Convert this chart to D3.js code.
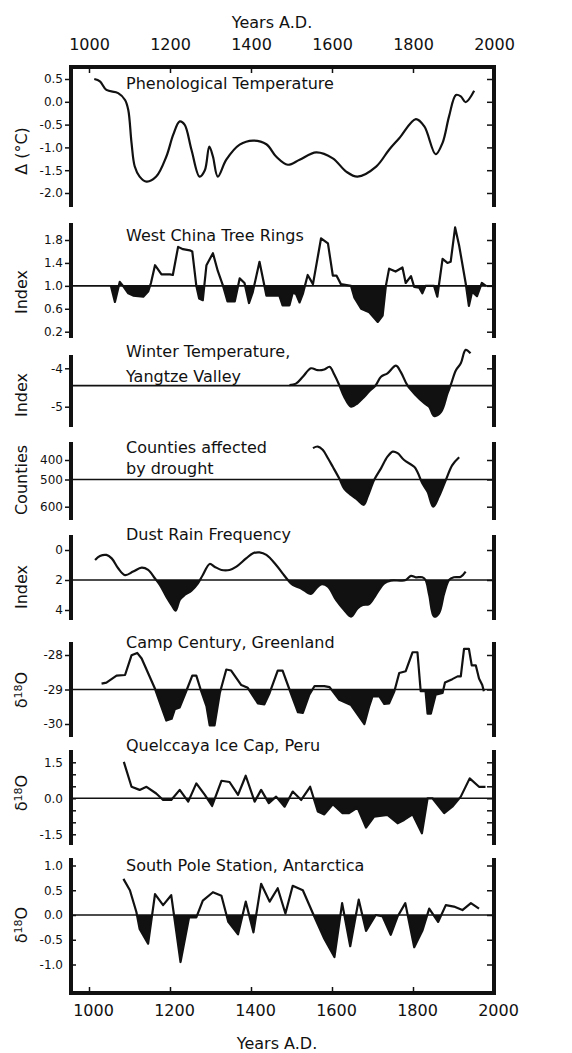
<!DOCTYPE html>
<html><head><meta charset="utf-8">
<script src="https://cdn.jsdelivr.net/npm/d3@7"></script>
<style>
body{margin:0;background:#fff}
svg{display:block;background:#fff}
text{font-family:"DejaVu Sans",sans-serif;fill:#111}
</style>
</head><body>
<svg id="c" width="572" height="1053"></svg>
<script>
// ---------------- DATA ----------------
const yearTicks = [1000, 1200, 1400, 1600, 1800, 2000];
const axisTitle = "Years A.D.";

const phenoTicks = [0.5, 0, -0.5, -1.0, -1.5, -2.0];
const phenoTickLabels = ["0.5", "0.0", "-0.5", "-1.0", "-1.5", "-2.0"];
const phenoYears = [1013,1027,1043,1072,1089,1097,1105,1113,1125,1142,1166,1191,1208,1224,1236,1253,1273,1286,1297,1306,1318,1339,1372,1405,1438,1462,1491,1520,1561,1602,1635,1663,1709,1741,1766,1807,1828,1856,1873,1889,1906,1918,1930,1951];
const phenoValues = [0.5,0.45,0.26,0.19,0.04,-0.18,-0.9,-1.42,-1.64,-1.75,-1.64,-1.2,-0.72,-0.43,-0.5,-1.05,-1.64,-1.5,-0.98,-1.2,-1.64,-1.27,-0.94,-0.85,-0.93,-1.2,-1.38,-1.27,-1.11,-1.24,-1.53,-1.64,-1.42,-1.05,-0.8,-0.38,-0.54,-1.15,-0.9,-0.32,0.15,0.12,-0.01,0.24];

const treeTicks = [1.8, 1.4, 1.0, 0.6, 0.2];
const treeTickLabels = ["1.8", "1.4", "1.0", "0.6", "0.2"];
const treeYears = [1054,1064,1076,1084,1097,1109,1134,1146,1153,1163,1179,1200,1207,1220,1232,1249,1255,1265,1272,1281,1290,1306,1318,1331,1342,1360,1372,1384,1395,1404,1421,1438,1470,1478,1495,1503,1511,1520,1528,1540,1553,1573,1590,1602,1611,1622,1647,1655,1672,1692,1713,1725,1733,1741,1757,1774,1782,1795,1803,1815,1823,1831,1852,1860,1873,1885,1893,1904,1914,1930,1938,1946,1958,1970,1980];
const treeValues = [1.0,0.72,1.07,1.0,0.87,0.83,0.81,0.9,1.05,1.36,1.2,1.2,1.19,1.68,1.64,1.62,1.6,1.0,0.78,0.75,1.36,1.57,1.26,1.0,0.73,0.73,1.13,1.05,0.7,0.88,1.42,0.83,0.83,0.66,0.66,0.88,0.86,0.71,0.86,1.19,1.03,1.83,1.74,1.18,1.18,1.03,1.0,0.8,0.6,0.54,0.37,0.48,1.0,1.3,1.25,1.32,1.05,1.17,0.98,0.97,0.87,1.0,1.0,0.81,1.47,1.4,1.42,2.02,1.7,1.05,0.65,0.9,0.82,1.05,1.0];

const winterTicks = [-4, -5];
const winterTickLabels = ["-4", "-5"];
const winterYears = [1495,1511,1528,1548,1565,1581,1594,1606,1618,1630,1647,1663,1676,1692,1708,1721,1737,1758,1770,1786,1807,1828,1840,1852,1869,1885,1893,1906,1918,1930,1942];
const winterValues = [-4.44,-4.4,-4.22,-4.0,-4.05,-4.03,-3.96,-4.17,-4.44,-4.74,-5.0,-4.91,-4.78,-4.6,-4.44,-4.22,-4.13,-3.93,-4.1,-4.44,-4.7,-4.91,-5.0,-5.24,-5.14,-4.66,-4.44,-4.05,-3.87,-3.52,-3.61];

const droughtTicks = [400, 500, 600];
const droughtTickLabels = ["400", "500", "600"];
const droughtYears = [1553,1565,1577,1590,1602,1618,1630,1647,1663,1678,1688,1704,1721,1737,1750,1762,1778,1803,1811,1823,1836,1850,1864,1881,1897,1914];
const droughtValues = [339,331,348,391,435,495,533,557,575,593,563,502,443,383,357,365,400,435,461,514,545,600,563,502,426,386];

const dustTicks = [0, 2, 4];
const dustTickLabels = ["0", "2", "4"];
const dustYears = [1015,1027,1043,1056,1072,1089,1109,1130,1146,1163,1175,1191,1204,1214,1224,1236,1253,1269,1281,1298,1310,1327,1347,1364,1388,1405,1421,1438,1462,1478,1491,1503,1524,1548,1561,1573,1590,1610,1630,1647,1663,1676,1692,1708,1729,1745,1770,1782,1795,1807,1823,1831,1840,1852,1864,1877,1889,1901,1918,1930];
const dustValues = [0.67,0.4,0.33,0.56,1.22,1.67,1.44,1.18,1.33,1.9,2.33,3.11,3.67,4.04,3.33,3.0,2.71,2.22,1.67,0.93,1.11,1.33,1.33,1.11,0.56,0.22,0.16,0.33,1.0,1.56,2.0,2.33,2.56,2.93,2.56,2.29,2.44,3.33,4.0,4.44,3.89,3.67,3.6,3.0,2.22,2.04,2.04,2.0,1.73,1.82,1.82,2.0,3.0,4.44,4.22,2.89,2.0,1.82,1.78,1.44];

const campTicks = [-28, -29, -30];
const campTickLabels = ["-28", "-29", "-30"];
const campYears = [1031,1043,1068,1089,1105,1119,1130,1163,1179,1191,1204,1212,1224,1240,1255,1265,1277,1290,1298,1310,1323,1339,1351,1376,1392,1417,1433,1446,1466,1478,1495,1516,1528,1544,1557,1581,1594,1618,1647,1680,1692,1700,1717,1729,1741,1754,1766,1782,1799,1811,1819,1831,1836,1844,1856,1873,1879,1897,1910,1918,1926,1938,1945,1955,1963,1971,1975];
const campValues = [-28.83,-28.8,-28.6,-28.58,-28.01,-27.94,-28.1,-28.98,-29.51,-29.9,-29.85,-29.57,-29.52,-29.05,-28.6,-28.6,-29.05,-29.48,-30.04,-30.04,-29.1,-28.42,-28.45,-28.87,-28.95,-29.4,-29.43,-29.1,-28.45,-28.45,-29.0,-29.66,-29.68,-29.15,-28.9,-28.9,-28.93,-29.3,-29.45,-30.0,-29.48,-29.2,-29.2,-29.42,-29.4,-29.05,-28.52,-28.47,-27.92,-27.92,-29.05,-29.05,-29.7,-29.7,-29.15,-29.1,-28.8,-28.7,-28.62,-28.62,-27.82,-27.82,-28.3,-28.3,-28.68,-28.87,-29.05];

const quelTicks = [1.5, 1.0, 0.5, 0.0, -0.5, -1.0, -1.5];
const quelTickLabels = ["1.5", "", "", "0.0", "", "", "-1.5"];
const quelYears = [1086,1105,1125,1142,1166,1183,1203,1224,1245,1265,1286,1304,1327,1347,1368,1387,1409,1425,1444,1462,1483,1503,1524,1546,1565,1581,1602,1626,1642,1663,1684,1704,1737,1762,1778,1799,1822,1836,1848,1877,1897,1918,1940,1963,1979];
const quelValues = [1.52,0.48,0.35,0.48,0.2,-0.07,-0.07,0.35,-0.14,0.62,0.14,-0.32,0.73,0.68,0.14,0.94,-0.14,0.35,-0.2,0.07,-0.35,0.28,-0.07,0.48,-0.55,-0.67,-0.25,-0.62,-0.62,-0.39,-1.22,-0.76,-0.69,-1.04,-0.9,-0.67,-1.46,0.0,0.0,-0.62,-0.35,0.07,0.83,0.48,0.48];

const poleTicks = [1.0, 0.5, 0.0, -0.5, -1.0];
const poleTickLabels = ["1.0", "0.5", "0.0", "-0.5", "-1.0"];
const poleYears = [1085,1101,1117,1125,1146,1163,1183,1203,1226,1247,1265,1281,1306,1327,1344,1368,1387,1406,1425,1446,1466,1485,1503,1528,1553,1581,1606,1625,1645,1666,1684,1708,1725,1745,1762,1781,1803,1823,1840,1862,1881,1901,1922,1943,1963];
const poleValues = [0.73,0.5,0.06,-0.28,-0.58,0.42,0.2,0.4,-0.95,-0.05,-0.05,0.29,0.46,0.39,-0.14,-0.39,0.27,-0.35,0.63,0.27,0.54,0.03,0.59,0.5,0.03,-0.48,-0.85,0.24,-0.63,0.31,-0.32,0.0,-0.03,-0.4,-0.03,0.24,-0.65,-0.32,0.13,-0.14,0.2,0.17,0.1,0.24,0.13];

// ---------------- LAYOUT ----------------
const svg = d3.select('#c');
const L = 71, R = 494, TOP = 67, BOT = 993;
const INK = '#111';
const x = d3.scaleLinear().domain([1000, 2000]).range([89, 494]);

const panels = [
  {id:1, title:["Phenological Temperature"], tY:[89], ylab:"Δ (°C)", labY:151, top:67, bottom:207,
   domain:[0.5,-2.0], range:[79,193], ticks:phenoTicks, labels:phenoTickLabels, years:phenoYears, values:phenoValues,
   baseline:null, curve:d3.curveCatmullRom, inward:false},
  {id:2, title:["West China Tree Rings"], tY:[241], ylab:"Index", labY:292, top:223, bottom:338,
   domain:[1.8,0.2], range:[240,331.7], ticks:treeTicks, labels:treeTickLabels, years:treeYears, values:treeValues,
   baseline:1.0, curve:d3.curveLinear, inward:false},
  {id:3, title:["Winter Temperature,","Yangtze Valley"], tY:[357,382], ylab:"Index", labY:395, top:355, bottom:427,
   domain:[-4,-5], range:[368.3,406.7], ticks:winterTicks, labels:winterTickLabels, years:winterYears, values:winterValues,
   baseline:-4.45, curve:d3.curveCatmullRom, inward:false},
  {id:4, title:["Counties affected","by drought"], tY:[453,474], ylab:"Counties", labY:480, top:442, bottom:520,
   domain:[400,500,600], range:[460,479.5,506.7], ticks:droughtTicks, labels:droughtTickLabels, years:droughtYears, values:droughtValues,
   baseline:500, curve:d3.curveCatmullRom, inward:false},
  {id:5, title:["Dust Rain Frequency"], tY:[540], ylab:"Index", labY:587, top:535, bottom:620,
   domain:[0,4], range:[550,610], ticks:dustTicks, labels:dustTickLabels, years:dustYears, values:dustValues,
   baseline:2, curve:d3.curveCatmullRom, inward:false},
  {id:6, title:["Camp Century, Greenland"], tY:[648], ylab:"d18O", labY:690, top:642, bottom:737,
   domain:[-28,-30], range:[655,724], ticks:campTicks, labels:campTickLabels, years:campYears, values:campValues,
   baseline:-29, curve:d3.curveLinear, inward:false},
  {id:7, title:["Quelccaya Ice Cap, Peru"], tY:[751], ylab:"d18O", labY:793, top:750, bottom:845,
   domain:[1.5,-1.5], range:[762.3,834.3], ticks:quelTicks, labels:quelTickLabels, years:quelYears, values:quelValues,
   baseline:0, curve:d3.curveLinear, inward:true},
  {id:8, title:["South Pole Station, Antarctica"], tY:[871], ylab:"d18O", labY:925, top:858, bottom:BOT,
   domain:[1.0,-1.0], range:[865.5,964.5], ticks:poleTicks, labels:poleTickLabels, years:poleYears, values:poleValues,
   baseline:0, curve:d3.curveLinear, inward:true}
];

const defs = svg.append('defs');

panels.forEach(p => {
  const y = d3.scaleLinear().domain(p.domain).range(p.range);
  const g = svg.append('g');
  const pts = p.years.map((yr, i) => [yr, p.values[i]]);

  if (p.baseline !== null) {
    const by = y(p.baseline);
    const cid = 'clip' + p.id;
    defs.append('clipPath').attr('id', cid).append('rect')
      .attr('x', L).attr('y', by).attr('width', R - L).attr('height', p.bottom - by + 30);
    g.append('path').datum(pts)
      .attr('clip-path', `url(#${cid})`)
      .attr('fill', INK)
      .attr('d', d3.area().x(d => x(d[0])).y0(by).y1(d => y(d[1])).curve(p.curve));
    g.append('line').attr('x1', L).attr('x2', R).attr('y1', by).attr('y2', by)
      .attr('stroke', INK).attr('stroke-width', 1.6);
  }

  g.append('path').datum(pts)
    .attr('fill', 'none').attr('stroke', INK).attr('stroke-width', 2.2)
    .attr('stroke-linejoin', 'round')
    .attr('d', d3.line().x(d => x(d[0])).y(d => y(d[1])).curve(p.curve));

  // left & right border segments
  [L, R].forEach(bx => g.append('line').attr('x1', bx).attr('x2', bx)
    .attr('y1', p.top).attr('y2', p.bottom).attr('stroke', INK).attr('stroke-width', 4));

  // left axis
  const axL = d3.axisLeft(y).tickValues(p.ticks).tickFormat((d, i) => p.labels[i])
    .tickSize(p.inward ? -7 : 4).tickPadding(p.inward ? 6 : 2);
  const ga = g.append('g').attr('transform', `translate(${L - 2},0)`).call(axL);
  ga.select('.domain').remove();
  ga.selectAll('line').attr('stroke', INK).attr('stroke-width', 1.5);
  ga.selectAll('text').attr('font-size', 12).attr('font-family', '"DejaVu Sans",sans-serif').attr('fill', INK);

  // right axis (inward ticks)
  const axR = d3.axisRight(y).tickValues(p.ticks).tickFormat('').tickSize(-6);
  const gr = g.append('g').attr('transform', `translate(${R - 1},0)`).call(axR);
  gr.select('.domain').remove();
  gr.selectAll('line').attr('stroke', INK).attr('stroke-width', 1.5);

  // titles
  p.title.forEach((t, i) => g.append('text').attr('x', 126).attr('y', p.tY[i])
    .attr('font-size', 16).text(t));

  // y label
  const lab = g.append('text').attr('transform', `translate(27,${p.labY}) rotate(-90)`)
    .attr('text-anchor', 'middle').attr('font-size', 16);
  if (p.ylab === 'd18O') {
    lab.append('tspan').text('δ');
    lab.append('tspan').attr('font-size', 11).attr('dy', -5).text('18');
    lab.append('tspan').attr('dy', 5).text('O');
  } else {
    lab.text(p.ylab);
  }
});

// top & bottom frame
[TOP, BOT].forEach(fy => svg.append('line').attr('x1', L - 2).attr('x2', R + 2)
  .attr('y1', fy).attr('y2', fy).attr('stroke', INK).attr('stroke-width', 4));

// top axis labels and inward ticks
const gTop = svg.append('g').attr('transform', `translate(0,${TOP})`)
  .call(d3.axisTop(x).tickValues(yearTicks).tickSize(0).tickPadding(17).tickFormat(d3.format('d')));
gTop.select('.domain').remove();
gTop.selectAll('text').attr('font-size', 16).attr('font-family', '"DejaVu Sans",sans-serif').attr('fill', INK);
const gTopT = svg.append('g').attr('transform', `translate(0,${TOP})`)
  .call(d3.axisBottom(x).tickValues(yearTicks.slice(0, -1)).tickSize(6).tickFormat(''));
gTopT.select('.domain').remove();
gTopT.selectAll('line').attr('stroke', INK).attr('stroke-width', 1.5);

// bottom axis labels and inward ticks
const gBot = svg.append('g').attr('transform', `translate(4,${BOT})`)
  .call(d3.axisBottom(x).tickValues(yearTicks).tickSize(0).tickPadding(12).tickFormat(d3.format('d')));
gBot.select('.domain').remove();
gBot.selectAll('text').attr('font-size', 16).attr('font-family', '"DejaVu Sans",sans-serif').attr('fill', INK);
const gBotT = svg.append('g').attr('transform', `translate(0,${BOT})`)
  .call(d3.axisTop(x).tickValues(yearTicks.slice(0, -1)).tickSize(6).tickFormat(''));
gBotT.select('.domain').remove();
gBotT.selectAll('line').attr('stroke', INK).attr('stroke-width', 1.5);

// axis titles
svg.append('text').attr('x', 272).attr('y', 28).attr('text-anchor', 'middle').attr('font-size', 16).text(axisTitle);
svg.append('text').attr('x', 277).attr('y', 1049).attr('text-anchor', 'middle').attr('font-size', 16).text(axisTitle);
</script>
</body></html>
